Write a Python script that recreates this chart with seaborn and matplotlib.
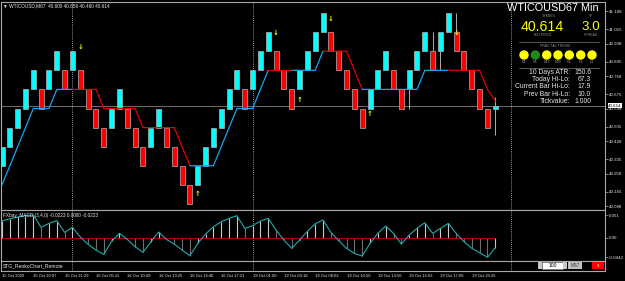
import matplotlib
matplotlib.use("Agg")
import matplotlib.pyplot as plt
import matplotlib.transforms as mtransforms
from matplotlib.patches import Circle, Rectangle
import seaborn as sns
import pandas as pd
import numpy as np

# ---------------- data ----------------
brick_size = 0.1
brick_low = [40.3, 40.4, 40.5, 40.6, 40.7, 40.6, 40.7, 40.8, 40.7, 40.8,
             40.7, 40.6, 40.5, 40.4, 40.5, 40.6, 40.5, 40.4, 40.3, 40.4,
             40.5, 40.4, 40.3, 40.2, 40.1, 40.2, 40.3, 40.4, 40.5, 40.6,
             40.7, 40.6, 40.7, 40.8, 40.9, 40.8, 40.7, 40.6, 40.7, 40.8,
             40.9, 41.0, 40.9, 40.8, 40.7, 40.6, 40.5, 40.6, 40.7, 40.8,
             40.7, 40.6, 40.7, 40.8, 40.9, 40.8, 40.9, 41.0, 40.9, 40.8,
             40.7, 40.6, 40.5]
brick_dir = [1, 1, 1, 1, 1, -1, 1, 1, -1, 1,
             -1, -1, -1, -1, 1, 1, -1, -1, -1, 1,
             1, -1, -1, -1, -1, 1, 1, 1, 1, 1,
             1, -1, 1, 1, 1, -1, -1, -1, 1, 1,
             1, 1, -1, -1, -1, -1, -1, 1, 1, 1,
             -1, -1, 1, 1, 1, -1, 1, 1, -1, -1,
             -1, -1, -1]
cur_open, cur_close, cur_high, cur_low = 40.600, 40.614, 40.659, 40.460

wick_idx = [52, 55, 56, 58]
wick_lo = [40.6, 40.9, 40.8, 41.0]
wick_hi = [40.7, 41.0, 40.9, 41.1]

trend_vals = [40.2, 40.3, 40.4, 40.5, 40.6, 40.6, 40.6, 40.7, 40.7, 40.7,
              40.7, 40.7, 40.7, 40.6, 40.6, 40.6, 40.6, 40.6, 40.5, 40.5,
              40.5, 40.5, 40.5, 40.4, 40.3, 40.3, 40.3, 40.3, 40.4, 40.5,
              40.6, 40.6, 40.6, 40.7, 40.8, 40.8, 40.8, 40.8, 40.8, 40.8,
              40.8, 40.9, 40.9, 40.9, 40.9, 40.8, 40.7, 40.7, 40.7, 40.7,
              40.7, 40.7, 40.7, 40.7, 40.8, 40.8, 40.8, 40.8, 40.8, 40.8,
              40.8, 40.8, 40.7, 40.64]
trend_state = (["up"] * 9 + ["dn"] * 15 + ["up"] * 10 + ["dn"] * 3 +
               ["up"] * 4 + ["dn"] * 5 + ["up"] * 11 + ["dn"] * 7)

arrow_dn_idx = [10, 35, 42, 58]
arrow_dn_price = [40.920, 40.998, 41.071, 40.998]
arrow_up_idx = [25, 38, 47]
arrow_up_price = [40.150, 40.647, 40.569]

macd_vals = [0.0375, 0.0428, 0.0465, 0.0495, 0.0510, 0.0233, 0.0323, 0.0383, 0.0120, 0.0233,
             0.0015, -0.0150, -0.0278, -0.0375, -0.0083, 0.0098, -0.0038, -0.0203, -0.0330, -0.0098,
             0.0128, -0.0038, -0.0143, -0.0278, -0.0405, -0.0128, 0.0083, 0.0248, 0.0360, 0.0435,
             0.0495, 0.0210, 0.0270, 0.0375, 0.0435, 0.0173, -0.0053, -0.0240, -0.0053, 0.0143,
             0.0315, 0.0398, 0.0120, -0.0068, -0.0240, -0.0353, -0.0413, -0.0128, 0.0098, 0.0263,
             0.0098, -0.0143, 0.0060, 0.0210, 0.0338, 0.0098, 0.0210, 0.0323, 0.0098, -0.0090,
             -0.0240, -0.0338, -0.0442, -0.0223]

price_ticks = [41.108, 41.015, 40.938, 40.845, 40.768, 40.675, 40.598,
               40.505, 40.428, 40.335, 40.258, 40.165, 40.088]
macd_ticks = [0.051, 0.0, -0.0442]
macd_tick_labels = ["0.051", "0.00", "-0.0442"]
date_labels = ["15 Oct 2020", "15 Oct 20:07", "15 Oct 21:29", "16 Oct 05:11",
               "16 Oct 10:49", "16 Oct 13:25", "16 Oct 16:40", "16 Oct 17:21",
               "19 Oct 01:00", "19 Oct 03:18", "19 Oct 08:02", "19 Oct 10:56",
               "19 Oct 13:56", "19 Oct 15:02", "19 Oct 17:06", "19 Oct 20:25"]
date_step = 4
separator_idx = [9, 32, 65]
bid_price = 40.614

info_rows = ["10 Days ATR:", "Today Hi-Lo:", "Current Bar Hi-Lo:", "Prev Bar Hi-Lo:", "Tickvalue:"]
info_vals = ["150.6", "67.3", "17.9", "10.0", "1.000"]
tf_names = ["M1", "M5", "M15", "M30", "H1", "H4", "D1"]
tf_state = ["y", "g", "y", "y", "y", "y", "y"]

# ---------------- style ----------------
sns.set_theme(style="dark")
plt.rcParams["font.family"] = ["Liberation Sans", "DejaVu Sans"]
plt.rcParams["axes.facecolor"] = "black"
plt.rcParams["figure.facecolor"] = "black"

CYAN = "#00FFFF"
RED = "#FF0000"
BLUE = "#12A6F2"
TRED = "#E00000"
FRAME = "#A8A8A8"
TXT = "#E6E6E6"

W, H = 625, 281
fig = plt.figure(figsize=(W / 100, H / 100), dpi=100, facecolor="black")


def fax(x0, y0, x1, y1):
    return fig.add_axes([x0 / W, 1 - y1 / H, (x1 - x0) / W, (y1 - y0) / H])


ax = fax(1.5, 1.5, 605, 209.5)
axm = fax(1.5, 209.5, 605, 260.7)
axs = fax(1.5, 260.7, 605, 271)

x_lo, x_hi = (1.5 - 2) / 7.83, (605 - 2) / 7.83
for a in (ax, axm, axs):
    a.set_facecolor("black")
    a.set_xlim(x_lo, x_hi)
    a.grid(False)
    for s in a.spines.values():
        s.set_visible(True)
        s.set_color(FRAME)
        s.set_linewidth(0.8)

# ---- main renko panel ----
ax.set_ylim(41.1 - (209.5 - 13) / 191, 41.1 + (13 - 1.5) / 191)
idx = np.arange(len(brick_low))
cols = [CYAN if d > 0 else RED for d in brick_dir]
ax.vlines(wick_idx, wick_lo, wick_hi, color="#C8C8C8", lw=0.6, zorder=2)
ax.vlines([len(brick_low)], [cur_low], [cur_high], color="#C8C8C8", lw=0.6, zorder=2)
ax.bar(idx, [brick_size] * len(idx), bottom=brick_low, width=0.64, color=cols,
       edgecolor="#B4B4B4", linewidth=0.5, zorder=3)
ax.bar([len(brick_low)], [cur_close - cur_open], bottom=[cur_open], width=0.64,
       color=CYAN, edgecolor="#B4B4B4", linewidth=0.5, zorder=3)

ax.axhline(bid_price, color="#808080", lw=0.6, zorder=1)

# trend line
rows = []
palette = {}
seg_state = trend_state[:-1]
run, a0 = 0, 0
for i in range(1, len(seg_state) + 1):
    if i == len(seg_state) or seg_state[i] != seg_state[a0]:
        for j in range(a0, i + 1):
            rows.append((str(run), j, trend_vals[j]))
        palette[str(run)] = BLUE if seg_state[a0] == "up" else TRED
        run += 1
        a0 = i
tdf = pd.DataFrame(rows, columns=["run", "idx", "val"])
sns.lineplot(data=tdf, x="idx", y="val", hue="run", palette=palette, ax=ax,
             legend=False, lw=0.9, estimator=None, sort=False, zorder=4)

for i, p in zip(arrow_dn_idx, arrow_dn_price):
    ax.text(i, p, "↓", ha="center", va="center", color="#FFFF00", fontsize=5,
            fontweight="bold", family="DejaVu Sans", zorder=6)
for i, p in zip(arrow_up_idx, arrow_up_price):
    ax.text(i, p, "↑", ha="center", va="center", color="#FFFF00", fontsize=5,
            fontweight="bold", family="DejaVu Sans", zorder=6)

ax.set_xticks([])
ax.yaxis.tick_right()
ax.set_yticks(price_ticks)
ax.set_yticklabels([f"{v:.3f}" for v in price_ticks])
ax.tick_params(axis="y", length=2, width=0.5, color=FRAME, labelcolor=TXT,
               labelsize=3.2, pad=1)
ax.set_xlabel("")
ax.set_ylabel("")

tr = mtransforms.blended_transform_factory(ax.transAxes, ax.transData)
ax.annotate(f"{bid_price:.3f}", xy=(1.0, bid_price), xycoords=tr,
            xytext=(2.2, 0), textcoords="offset points", ha="left", va="center",
            fontsize=3.2, color="black", zorder=10, annotation_clip=False,
            bbox=dict(boxstyle="square,pad=0.12", fc="white", ec="none"))

# ---- MACD panel ----
axm.set_ylim(-(260.7 - 237.7) * 0.00225, (237.7 - 209.5) * 0.00225)
midx = np.arange(len(macd_vals))
hist_cols = ["#C8C8C8" if (i == 0 or macd_vals[i] >= macd_vals[i - 1]) else "#6E6E6E"
             for i in range(len(macd_vals))]
axm.vlines(midx, 0, macd_vals, colors=hist_cols, lw=0.8, zorder=2)
axm.hlines(0, 0, len(macd_vals) - 1, color="#B00000", lw=0.7, zorder=3)
sns.lineplot(x=midx, y=macd_vals, ax=axm, color="#22AAAA", lw=0.8, zorder=4)
axm.set_xticks([])
axm.yaxis.tick_right()
axm.set_yticks(macd_ticks)
axm.set_yticklabels(macd_tick_labels)
axm.tick_params(axis="y", length=2, width=0.5, color=FRAME, labelcolor=TXT,
                labelsize=3.2, pad=1)
axm.set_xlabel("")
axm.set_ylabel("")

# ---- STG panel ----
axs.set_ylim(0, 1)
axs.set_yticks([])
date_pos = list(range(0, date_step * len(date_labels), date_step))
axs.set_xticks(date_pos)
axs.set_xticklabels(date_labels, ha="left")
axs.tick_params(axis="x", length=1.5, width=0.5, color=FRAME, labelcolor=TXT,
                labelsize=3.0, pad=0.8)

for a in (ax, axm, axs):
    for s in separator_idx:
        a.axvline(s, color="#C8C8C8", lw=0.6, ls=(0, (1, 1.5)), zorder=1)

# ---- texts ----
def ftext(x, y, s, **kw):
    fig.text(x / W, 1 - y / H, s, **kw)


ftext(3, 5.3, "▼ WTICOUSD,M67  40.600 40.659 40.460 40.614", fontsize=3.4,
      color=TXT, va="center", family=["Liberation Sans", "DejaVu Sans"])
ftext(3, 215, "FXbay_MACD (3,4,0) -0.0223 0.0000 -0.0223", fontsize=3.4,
      color=TXT, va="center")
ftext(3, 265.8, "STG_RenkoChart_Remote", fontsize=3.6, color=TXT, va="center")

# info panel
ftext(599, 8, "WTICOUSD67 Min", fontsize=7.8, color="white", ha="right", va="center")
ftext(549, 15.7, "SYMBOL", fontsize=2.5, color="#8C8C8C", ha="center", va="center")
ftext(591.5, 15.7, "TF", fontsize=2.5, color="#8C8C8C", ha="center", va="center")
ftext(542, 27, "40.614", fontsize=10.2, color="#FFFF00", ha="center", va="center")
ftext(591, 27, "3.0", fontsize=9.6, color="#FFFF00", ha="center", va="center")
ftext(543, 35, "BID PRICE", fontsize=2.5, color="#8C8C8C", ha="center", va="center")
ftext(591.5, 35, "SPREAD", fontsize=2.5, color="#8C8C8C", ha="center", va="center")
ftext(555, 45.7, "FRACTAL TREND", fontsize=2.7, color="#8C8C8C", ha="center", va="center")
for yy in (41.7, 67.7):
    fig.add_artist(plt.Line2D([519 / W, 599 / W], [1 - yy / H, 1 - yy / H],
                              transform=fig.transFigure, color="#7A7A7A", lw=0.5))
cx = [524, 535.3, 546.7, 558, 569.3, 580.7, 592]
for x, nm, st in zip(cx, tf_names, tf_state):
    fig.add_artist(Circle((x / 100, (H - 55) / 100), 0.04,
                          transform=fig.dpi_scale_trans,
                          color="#FFFF00" if st == "y" else "#1F8A1F"))
    ftext(x, 62.3, nm, fontsize=2.5, color="#8C8C8C", ha="center", va="center")
for k, (lab, val) in enumerate(zip(info_rows, info_vals)):
    yy = 72.3 + 7.35 * k
    ftext(570, yy, lab, fontsize=4.9, color=TXT, ha="right", va="center")
    ftext(591, yy, val, fontsize=4.9, color=TXT, ha="right", va="center")

# controls in STG panel
def frect(x0, y0, x1, y1, fc, ec="none"):
    fig.add_artist(Rectangle((x0 / 100, (H - y1) / 100), (x1 - x0) / 100, (y1 - y0) / 100,
                             transform=fig.dpi_scale_trans, fc=fc, ec=ec, lw=0.4))


frect(538, 262, 542, 269, "#C8C8C8")
frect(542, 262, 563, 269, "white", "#808080")
ftext(552.5, 265.6, "100", fontsize=3.6, color="black", ha="center", va="center")
frect(563, 262, 567, 269, "#C8C8C8")
frect(568, 262, 582, 269, "#C0C0C0")
ftext(575, 265.6, "M67", fontsize=3.4, color="#333333", ha="center", va="center")
frect(592, 262, 604, 269, "#FF0000")
ftext(598, 265.6, "x", fontsize=3.4, color="white", ha="center", va="center")

fig.savefig("out.png", dpi=100, facecolor="black")
